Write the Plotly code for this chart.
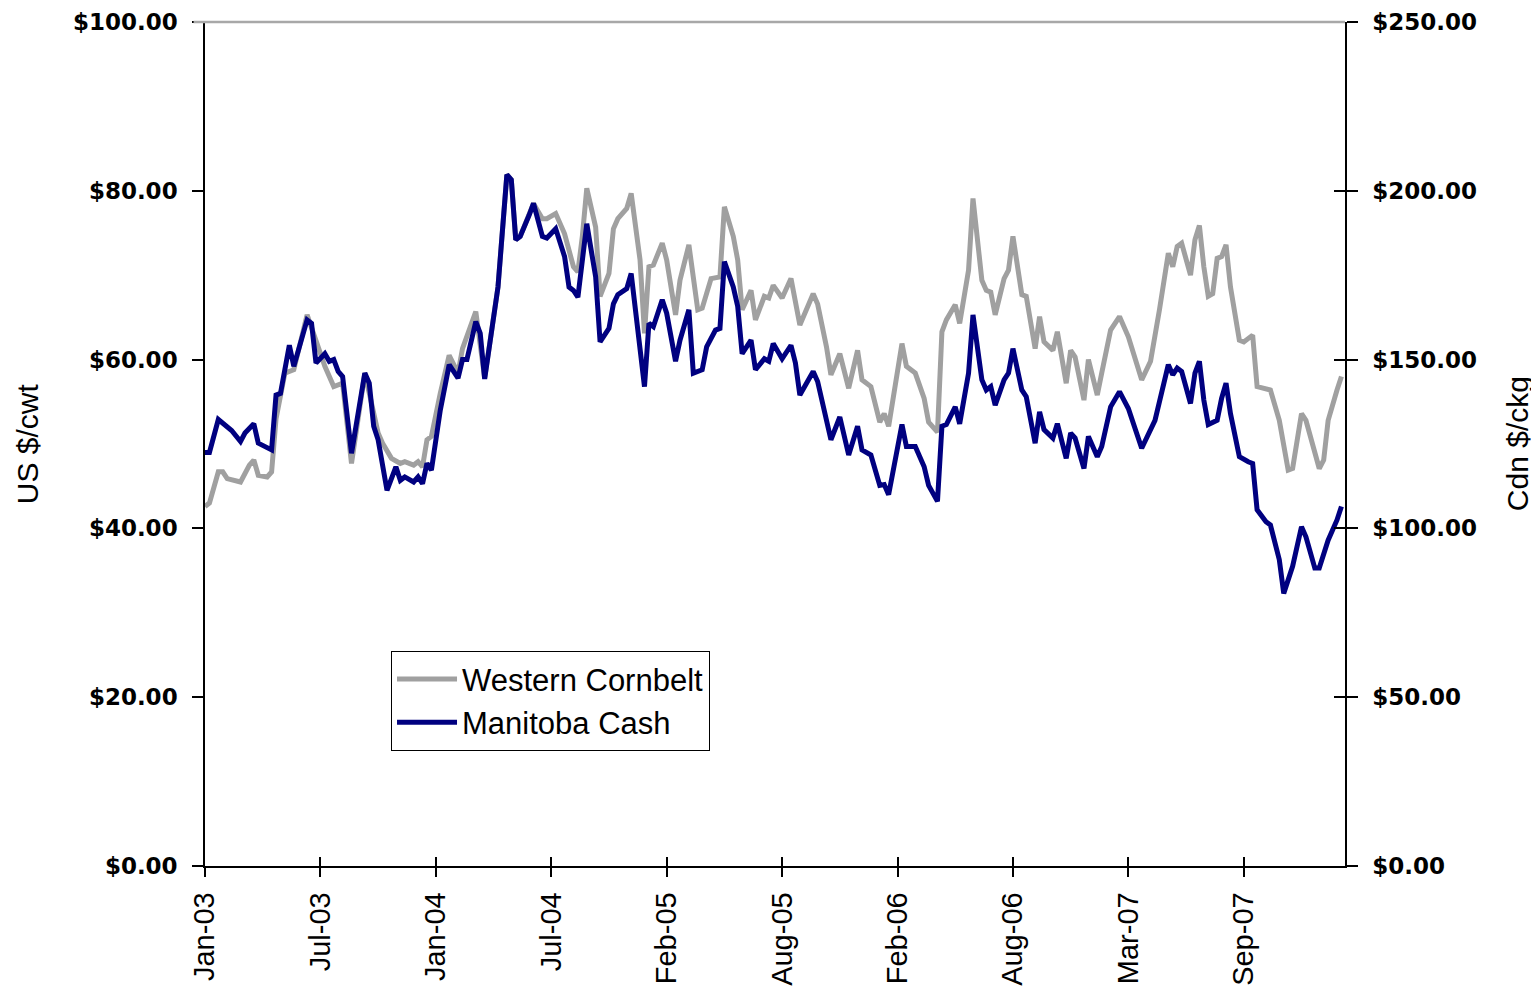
import plotly.graph_objects as go

# ---- data (week index since first week of Jan-2003, price in US $/cwt) ----
cornbelt_weeks = [0, 1, 3, 4, 5, 8, 10, 11, 12, 14, 15, 16, 18, 20, 23, 27, 29, 31, 33, 36,
                  39, 40, 42, 44, 45, 47, 48, 49, 50, 51, 53, 55, 57, 58, 61, 63, 66, 68, 69,
                  70, 71, 73, 74, 76, 77, 79, 81, 83, 84, 85, 86, 88, 89, 91, 92, 93, 95, 96,
                  98, 99, 100, 101, 103, 104, 106, 107, 109, 111, 112, 114, 116, 117, 119, 120,
                  121, 123, 124, 126, 127, 128, 130, 132, 134, 137, 138, 140, 141, 143, 145,
                  147, 148, 150, 152, 153, 154, 157, 158, 160, 162, 163, 165, 166, 167, 169,
                  170, 172, 173, 175, 176, 177, 178, 180, 181, 182, 184, 185, 187, 188, 189,
                  191, 192, 194, 195, 196, 198, 199, 201, 202, 204, 206, 208, 211, 213, 215,
                  217, 218, 219, 220, 222, 223, 224, 225, 226, 227, 228, 229, 230, 231, 233,
                  234, 236, 237, 240, 242, 244, 245, 247, 248, 250, 251, 252, 253, 255, 256]
cornbelt_values = [42.6, 43.0, 46.7, 46.7, 45.9, 45.5, 47.5, 48.1, 46.3, 46.1, 46.7, 53.0, 58.4,
                   58.8, 65.3, 59.2, 56.8, 57.2, 47.7, 58.4, 51.3, 50.1, 48.3, 47.7, 47.9, 47.5,
                   47.9, 47.3, 50.5, 50.9, 56.0, 60.5, 58.4, 61.3, 65.7, 57.8, 68.6, 81.9, 81.3,
                   74.2, 74.6, 77.1, 78.5, 76.7, 76.7, 77.3, 74.9, 71.0, 70.4, 74.6, 80.3, 75.7,
                   67.5, 70.2, 75.5, 76.7, 77.9, 79.7, 71.8, 63.1, 71.0, 71.2, 73.8, 71.8, 65.3,
                   69.4, 73.6, 65.9, 66.1, 69.6, 69.8, 78.1, 74.6, 71.8, 65.9, 68.2, 64.7, 67.5,
                   67.3, 68.8, 67.3, 69.6, 64.1, 67.8, 66.6, 61.5, 58.2, 60.7, 56.6, 61.1, 57.6,
                   56.8, 52.6, 53.6, 52.1, 61.9, 59.2, 58.4, 55.4, 52.6, 51.4, 63.3, 64.7, 66.5,
                   64.3, 70.6, 79.1, 69.4, 68.2, 68.0, 65.3, 69.6, 70.6, 74.6, 67.7, 67.5, 61.3,
                   65.1, 62.1, 61.1, 63.3, 57.2, 61.1, 60.3, 55.2, 60.0, 55.8, 58.4, 63.5, 65.1,
                   62.7, 57.6, 59.8, 65.9, 72.6, 71.0, 73.4, 73.8, 70.0, 74.2, 75.9, 71.0, 67.5,
                   67.8, 72.0, 72.2, 73.6, 68.6, 62.3, 62.1, 62.9, 56.8, 56.4, 52.8, 46.9, 47.1,
                   53.6, 52.8, 48.9, 47.1, 48.1, 52.8, 56.4, 58.0]

manitoba_weeks = [0, 1, 3, 5, 6, 8, 9, 11, 12, 15, 16, 17, 19, 20, 23, 24, 25, 27, 28, 29, 30,
                  31, 33, 36, 37, 38, 39, 41, 43, 44, 45, 47, 48, 49, 50, 51, 53, 55, 57, 58, 59,
                  61, 62, 63, 66, 68, 69, 70, 71, 73, 74, 76, 77, 79, 81, 82, 83, 84, 86, 88,
                  89, 91, 92, 93, 95, 96, 98, 99, 100, 101, 103, 104, 106, 107, 109, 110, 112,
                  113, 115, 116, 117, 119, 120, 121, 123, 124, 126, 127, 128, 130, 132, 133,
                  134, 137, 138, 140, 141, 143, 145, 147, 148, 150, 152, 153, 154, 157, 158,
                  160, 162, 163, 165, 166, 167, 169, 170, 172, 173, 175, 176, 177, 178, 180,
                  181, 182, 184, 185, 187, 188, 189, 191, 192, 194, 195, 196, 198, 199, 201,
                  202, 204, 206, 208, 211, 214, 217, 218, 219, 220, 222, 223, 224, 225, 226,
                  228, 229, 230, 231, 233, 235, 236, 237, 239, 240, 242, 243, 245, 247, 248,
                  250, 251, 253, 254, 255, 256]
manitoba_values = [49.0, 49.0, 52.9, 52.1, 51.6, 50.3, 51.3, 52.4, 50.1, 49.3, 55.8, 56.0, 61.7,
                   59.2, 64.7, 64.3, 59.6, 60.7, 59.8, 60.0, 58.6, 58.0, 48.9, 58.4, 57.2, 52.1,
                   50.5, 44.5, 47.3, 45.7, 46.1, 45.5, 46.1, 45.3, 47.7, 46.9, 54.0, 59.4, 57.8,
                   60.0, 60.0, 64.5, 63.1, 57.7, 68.6, 81.9, 81.3, 74.2, 74.6, 77.1, 78.5, 74.6,
                   74.4, 75.5, 72.2, 68.6, 68.2, 67.4, 76.1, 69.8, 62.1, 63.7, 66.6, 67.7, 68.4,
                   70.2, 60.7, 56.8, 64.3, 63.9, 67.1, 65.5, 59.8, 62.3, 65.9, 58.4, 58.8, 61.5,
                   63.5, 63.7, 71.6, 68.6, 66.3, 60.7, 62.3, 58.8, 60.1, 59.8, 61.9, 60.1, 61.7,
                   59.6, 55.8, 58.6, 57.4, 52.8, 50.5, 53.2, 48.7, 52.1, 49.3, 48.7, 45.1, 45.2,
                   44.0, 52.3, 49.7, 49.7, 47.3, 45.1, 43.2, 52.1, 52.3, 54.4, 52.4, 58.4, 65.3,
                   57.6, 56.4, 56.8, 54.6, 57.6, 58.4, 61.3, 56.4, 55.6, 50.1, 53.8, 51.7, 50.7,
                   52.4, 48.3, 51.3, 50.7, 47.1, 50.9, 48.5, 49.7, 54.4, 56.2, 54.2, 49.5, 52.8,
                   59.4, 58.2, 59.0, 58.6, 54.8, 58.4, 59.8, 55.2, 52.3, 52.8, 55.4, 57.2, 53.6,
                   48.5, 47.9, 47.7, 42.2, 40.8, 40.4, 36.3, 32.3, 35.5, 40.2, 39.0, 35.3, 35.3,
                   38.6, 39.8, 41.0, 42.6]

tick_weeks = [0, 26, 52, 78, 104, 130, 156, 182, 208, 234]
tick_labels = ["Jan-03", "Jul-03", "Jan-04", "Jul-04", "Feb-05", "Aug-05",
               "Feb-06", "Aug-06", "Mar-07", "Sep-07"]
us_ticks = [0, 20, 40, 60, 80, 100]
us_labels = ["$0.00", "$20.00", "$40.00", "$60.00", "$80.00", "$100.00"]
cdn_ticks = [0, 50, 100, 150, 200, 250]
cdn_labels = ["$0.00", "$50.00", "$100.00", "$150.00", "$200.00", "$250.00"]

FONT = "Liberation Sans, Arial, sans-serif"
BOLD = "DejaVu Sans, Liberation Sans, Arial, sans-serif"
XR = [0, 256.8]

fig = go.Figure()
fig.add_trace(go.Scatter(x=cornbelt_weeks, y=cornbelt_values, mode="lines",
                         name="Western Cornbelt",
                         line=dict(color="#a0a0a0", width=5)))
fig.add_trace(go.Scatter(x=manitoba_weeks, y=manitoba_values, mode="lines",
                         name="Manitoba Cash",
                         line=dict(color="#000080", width=5)))
# empty traces so the secondary (tick-only) axes get drawn
fig.add_trace(go.Scatter(x=[], y=[], yaxis="y2", showlegend=False, hoverinfo="skip"))
fig.add_trace(go.Scatter(x=[], y=[], xaxis="x2", showlegend=False, hoverinfo="skip"))
fig.add_trace(go.Scatter(x=[], y=[], yaxis="y3", showlegend=False, hoverinfo="skip"))

fig.update_layout(
    width=1531, height=991,
    margin=dict(l=197, r=194, t=14, b=133, autoexpand=False),
    paper_bgcolor="white", plot_bgcolor="white",
    font=dict(family=FONT, color="black"),
    showlegend=True,
    legend=dict(x=0.163, y=0.2547, xanchor="left", yanchor="top",
                bordercolor="black", borderwidth=1.2, bgcolor="white",
                font=dict(family=FONT, size=31, color="black"),
                itemwidth=60, tracegroupgap=0),
    xaxis=dict(range=XR, tickmode="array", tickvals=tick_weeks, ticktext=tick_labels,
               tickangle=-90, ticks="outside", ticklen=9, tickwidth=1.5, tickcolor="black",
               showline=True, linecolor="black", linewidth=1.5, showgrid=False,
               zeroline=False, ticklabelstandoff=4, automargin=False,
               tickfont=dict(family=FONT, size=29, color="black")),
    xaxis2=dict(range=XR, overlaying="x", anchor="y", side="bottom", tickmode="array",
                tickvals=tick_weeks, ticks="inside", ticklen=9, tickwidth=1.5,
                tickcolor="black", showticklabels=False, showline=False, showgrid=False,
                zeroline=False, automargin=False),
    yaxis=dict(range=[0, 100], tickmode="array", tickvals=us_ticks, ticktext=us_labels,
               ticks="outside", ticklen=11, tickwidth=1.5, ticklabelstandoff=10,
               tickcolor="black", showline=True, linecolor="black", linewidth=1.5,
               showgrid=False, zeroline=False, automargin=False,
               tickfont=dict(family=BOLD, size=23, color="black", weight="bold")),
    yaxis2=dict(range=[0, 250], overlaying="y", side="right", anchor="x", tickmode="array",
                tickvals=cdn_ticks, ticktext=cdn_labels, ticks="outside",
                ticklen=11, tickwidth=1.5, tickcolor="black", showline=True,
                ticklabelstandoff=10, automargin=False,
                linecolor="black", linewidth=1.5, showgrid=False, zeroline=False,
                tickfont=dict(family=BOLD, size=23, color="black", weight="bold")),
    yaxis3=dict(range=[0, 250], overlaying="y", side="right", anchor="x", tickmode="array",
                tickvals=cdn_ticks, ticks="inside", ticklen=11, tickwidth=1.5,
                tickcolor="black", showticklabels=False, showline=False, showgrid=False,
                zeroline=False, automargin=False),
    shapes=[dict(type="line", xref="paper", yref="paper", x0=-0.01, x1=1.0, y0=1, y1=1,
                 line=dict(color="#a8a8a8", width=2.5))],
    annotations=[
        dict(text="US $/cwt", xref="paper", yref="paper", x=-0.156, y=0.5,
             xanchor="center", yanchor="middle", textangle=-90, showarrow=False,
             font=dict(family=FONT, size=30, color="black")),
        dict(text="Cdn $/ckg", xref="paper", yref="paper", x=1.151, y=0.5,
             xanchor="center", yanchor="middle", textangle=-90, showarrow=False,
             font=dict(family=FONT, size=30, color="black")),
    ],
)

fig.write_html("out.html")
